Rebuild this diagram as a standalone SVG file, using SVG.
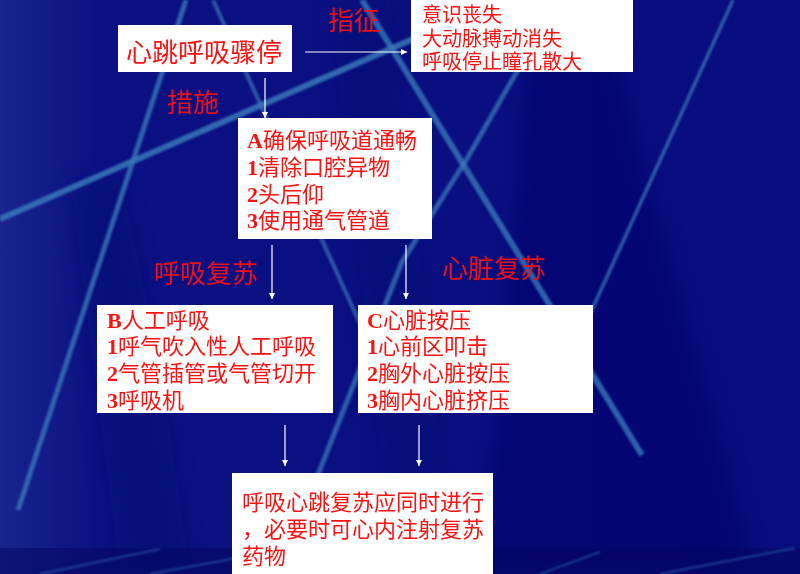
<svg xmlns="http://www.w3.org/2000/svg" width="800" height="574" viewBox="0 0 800 574">
<defs>
<style>
.box{fill:#ffffff}
.t{font-family:"Noto Sans CJK SC","Noto Sans CJK TC",sans-serif;fill:#ff1010}
.lbl{font-family:"Noto Sans CJK SC",sans-serif;fill:#ee1018;font-size:26px}
.n{font-family:"Liberation Serif","Noto Sans CJK SC",serif;font-weight:bold}
.bg{stroke:#3a78b8;fill:none;stroke-linecap:butt}
.c{stroke:#ffffff;stroke-width:1.2;fill:none;marker-end:url(#ah)}
</style>
<marker id="ah" viewBox="0 0 10 10" refX="10" refY="5" markerWidth="6" markerHeight="6" markerUnits="userSpaceOnUse" orient="auto">
<path d="M0,0 L10,5 L0,10 z" fill="#ffffff"/>
</marker>
<linearGradient id="lg" x1="0" y1="0" x2="1" y2="0">
<stop offset="0" stop-color="#18248f"/>
<stop offset="0.12" stop-color="#0b1182"/>
<stop offset="1" stop-color="#080c7e"/>
</linearGradient>
<linearGradient id="hl" x1="0" y1="0" x2="1" y2="0">
<stop offset="0" stop-color="#8fa85a" stop-opacity="0.6"/>
<stop offset="0.3" stop-color="#b0bc62"/>
<stop offset="0.85" stop-color="#a0b060"/>
<stop offset="1" stop-color="#6080a0" stop-opacity="0.1"/>
</linearGradient>
<filter id="soft" x="-20%" y="-20%" width="140%" height="140%"><feGaussianBlur stdDeviation="10"/></filter>
<filter id="soft2" x="-20%" y="-20%" width="140%" height="140%"><feGaussianBlur stdDeviation="1"/></filter>
</defs>
<g id="background">
<rect x="0" y="0" width="800" height="574" fill="url(#lg)"/>
<path d="M530,50 L615,50 C660,250 720,420 752,574 L480,574 C500,400 515,250 530,50 Z" fill="#03066a" opacity="0.55" filter="url(#soft)"/>
<path d="M70,180 L120,180 C150,300 170,420 190,574 L120,574 C100,420 85,300 70,180 Z" fill="#050a70" opacity="0.4" filter="url(#soft)"/>
<path d="M330,0 L390,0 C410,200 440,400 450,574 L390,574 C380,400 350,200 330,0 Z" fill="#050a70" opacity="0.3" filter="url(#soft)"/>
<rect x="0" y="548" width="800" height="26" fill="#03065a" opacity="0.5"/>
<g filter="url(#soft2)">
<line class="bg" x1="0" y1="219" x2="420" y2="36" stroke-width="6" opacity="0.85"/>
<line class="bg" x1="186" y1="0" x2="18" y2="510" stroke-width="5" opacity="0.8"/>
<line class="bg" x1="213" y1="0" x2="372" y2="350" stroke-width="4" opacity="0.7"/>
<line class="bg" x1="362" y1="0" x2="642" y2="455" stroke-width="6" opacity="0.8"/>
<path class="bg" d="M535,40 L468,157 L402,262 L310,495" stroke-width="5" opacity="0.75"/>
<line class="bg" x1="733" y1="0" x2="585" y2="325" stroke-width="3.5" opacity="0.75"/>
<g stroke="#3f80c4" stroke-width="2" opacity="0.45">
<line x1="40" y1="574" x2="160" y2="549"/>
<line x1="150" y1="574" x2="280" y2="550"/>
<line x1="540" y1="574" x2="600" y2="552"/>
<line x1="660" y1="574" x2="795" y2="548"/>
</g>
</g>
<line x1="0" y1="547" x2="800" y2="547" stroke="url(#hl)" stroke-width="2.5"/>
</g>
<g id="connectors">
<line class="c" x1="305" y1="52" x2="407" y2="52"/>
<line class="c" x1="265" y1="78" x2="265" y2="118"/>
<line class="c" x1="272" y1="245" x2="272" y2="299"/>
<line class="c" x1="406" y1="245" x2="406" y2="299"/>
<line class="c" x1="285" y1="425" x2="285" y2="466"/>
<line class="c" x1="419" y1="425" x2="419" y2="466"/>
</g>
<g id="label-zhizheng"><text class="lbl" x="328" y="30">指征</text></g>
<g id="label-cuoshi"><text class="lbl" x="167" y="112">措施</text></g>
<g id="label-huxi"><text class="lbl" x="154" y="283">呼吸复苏</text></g>
<g id="label-xinzang"><text class="lbl" x="442" y="278">心脏复苏</text></g>
<g id="node-arrest">
<rect class="box" x="118" y="25" width="174" height="47"/>
<text class="t" x="126" y="62" font-size="26">心跳呼吸骤停</text>
</g>
<g id="node-signs">
<rect class="box" x="411" y="0" width="222" height="72"/>
<text class="t" font-size="20"><tspan x="422" y="21.5">意识丧失</tspan><tspan x="422" y="45.5">大动脉搏动消失</tspan><tspan x="422" y="69">呼吸停止瞳孔散大</tspan></text>
</g>
<g id="node-a">
<rect class="box" x="238" y="118" width="194" height="121"/>
<text class="t" font-size="22"><tspan x="247" y="148"><tspan class="n">A</tspan>确保呼吸道通畅</tspan><tspan x="247" y="175"><tspan class="n">1</tspan>清除口腔异物</tspan><tspan x="247" y="201.5"><tspan class="n">2</tspan>头后仰</tspan><tspan x="247" y="227.5"><tspan class="n">3</tspan>使用通气管道</tspan></text>
</g>
<g id="node-b">
<rect class="box" x="97" y="305" width="236" height="108"/>
<text class="t" font-size="22"><tspan x="107" y="327.5"><tspan class="n">B</tspan>人工呼吸</tspan><tspan x="107" y="354"><tspan class="n">1</tspan>呼气吹入性人工呼吸</tspan><tspan x="107" y="380.5"><tspan class="n">2</tspan>气管插管或气管切开</tspan><tspan x="107" y="407.5"><tspan class="n">3</tspan>呼吸机</tspan></text>
</g>
<g id="node-c">
<rect class="box" x="358" y="305" width="235" height="108"/>
<text class="t" font-size="22"><tspan x="367" y="327.5"><tspan class="n">C</tspan>心脏按压</tspan><tspan x="367" y="354"><tspan class="n">1</tspan>心前区叩击</tspan><tspan x="367" y="380.5"><tspan class="n">2</tspan>胸外心脏按压</tspan><tspan x="367" y="407.5"><tspan class="n">3</tspan>胸内心脏挤压</tspan></text>
</g>
<g id="node-final">
<rect class="box" x="232" y="473" width="261" height="101"/>
<text class="t" font-size="22"><tspan x="242" y="509.5">呼吸心跳复苏应同时进行</tspan><tspan x="242" y="536.5">，必要时可心内注射复苏</tspan><tspan x="242" y="563.5">药物</tspan></text>
</g>
</svg>
